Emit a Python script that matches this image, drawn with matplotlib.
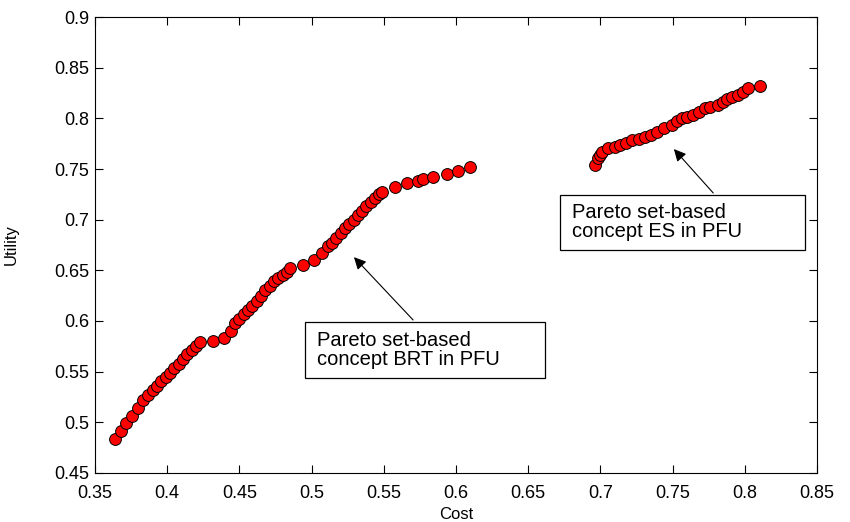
import matplotlib
matplotlib.use("Agg")
import matplotlib.pyplot as plt
from matplotlib.patches import Rectangle

plt.rcParams['font.family'] = ['Liberation Sans', 'DejaVu Sans']

# Pareto set, concept BRT
brt_cost = [0.3638, 0.368, 0.3715, 0.3756, 0.3798, 0.3832,
            0.3865, 0.390, 0.393, 0.396, 0.399, 0.402, 0.405, 0.408, 0.411, 0.414, 0.417, 0.420, 0.4227,
            0.4317, 0.4393, 0.4442, 0.447,
            0.450, 0.453, 0.456, 0.459, 0.462, 0.465, 0.468, 0.471, 0.474, 0.477, 0.480, 0.483,
            0.485, 0.494, 0.5017, 0.5072, 0.5114,
            0.514, 0.517, 0.520, 0.523, 0.526, 0.529, 0.532, 0.535, 0.538, 0.541, 0.544, 0.547, 0.5488,
            0.5578, 0.566, 0.5737, 0.5771, 0.584, 0.5938, 0.6014, 0.6097]
brt_util = [0.4834, 0.4913, 0.4992, 0.5061, 0.514, 0.522,
            0.527, 0.532, 0.536, 0.541, 0.545, 0.549, 0.554, 0.558, 0.562, 0.567, 0.571, 0.575, 0.5792,
            0.580, 0.5831, 0.590, 0.598,
            0.602, 0.607, 0.611, 0.615, 0.620, 0.625, 0.631, 0.635, 0.639, 0.642, 0.645, 0.648,
            0.6522, 0.6552, 0.660, 0.667, 0.674,
            0.677, 0.682, 0.687, 0.692, 0.696, 0.700, 0.705, 0.709, 0.713, 0.717, 0.721, 0.725, 0.7273,
            0.7322, 0.7361, 0.7381, 0.740, 0.742, 0.745, 0.748, 0.752]

# Pareto set, concept ES
es_cost = [0.6963, 0.6983, 0.700, 0.7011, 0.7053, 0.710, 0.7136, 0.718, 0.7219, 0.727, 0.7309,
           0.735, 0.7392, 0.744, 0.7496, 0.753, 0.7565, 0.760, 0.7641, 0.768, 0.7724, 0.776,
           0.7814, 0.785, 0.7877, 0.791, 0.7953, 0.799, 0.8022, 0.8105]
es_util = [0.7539, 0.7608, 0.764, 0.7667, 0.7707, 0.772, 0.7736, 0.776, 0.7786, 0.780, 0.7815,
           0.784, 0.7865, 0.790, 0.7934, 0.797, 0.8003, 0.801, 0.8033, 0.806, 0.8102, 0.811,
           0.8131, 0.816, 0.8191, 0.821, 0.823, 0.826, 0.8299, 0.8319]

fig = plt.figure(figsize=(8.5, 5.22), dpi=100)
ax = fig.add_axes([0.1118, 0.0939, 0.8494, 0.8735])

ax.plot(brt_cost, brt_util, 'o', mfc='red', mec='black', mew=0.7, ms=8.5, ls='none')
ax.plot(es_cost, es_util, 'o', mfc='red', mec='black', mew=0.7, ms=8.5, ls='none')

ax.set_xlim(0.35, 0.85)
ax.set_ylim(0.45, 0.9)
ax.set_xticks([0.35, 0.4, 0.45, 0.5, 0.55, 0.6, 0.65, 0.7, 0.75, 0.8, 0.85])
ax.set_xticklabels(['0.35', '0.4', '0.45', '0.5', '0.55', '0.6', '0.65', '0.7', '0.75', '0.8', '0.85'])
ax.set_yticks([0.45, 0.5, 0.55, 0.6, 0.65, 0.7, 0.75, 0.8, 0.85, 0.9])
ax.set_yticklabels(['0.45', '0.5', '0.55', '0.6', '0.65', '0.7', '0.75', '0.8', '0.85', '0.9'])
ax.tick_params(direction='in', top=True, right=True, labelsize=13, length=6, width=0.8, pad=4)
ax.tick_params(axis='x', pad=9)
for s in ax.spines.values():
    s.set_linewidth(0.8)

ax.set_xlabel('Cost', fontsize=12)
ax.set_ylabel('Utility', fontsize=12)
ax.xaxis.set_label_coords(0.5, -0.075)
ax.yaxis.set_label_coords(-0.105, 0.5)

# annotation boxes
ax.add_patch(Rectangle((0.4954, 0.5437), 0.1662, 0.0553, fc='white', ec='black', lw=0.9, zorder=3))
ax.text(0.5035, 0.5715, 'Pareto set-based\nconcept BRT in PFU', fontsize=14.5, va='center', ha='left',
        linespacing=1.0, zorder=4)
ax.annotate('', xy=(0.528, 0.665), xytext=(0.5716, 0.599),
            arrowprops=dict(arrowstyle='-|>', color='black', lw=0.8, mutation_scale=18))

ax.add_patch(Rectangle((0.672, 0.670), 0.170, 0.0543, fc='white', ec='black', lw=0.9, zorder=3))
ax.text(0.680, 0.6975, 'Pareto set-based\nconcept ES in PFU', fontsize=14.5, va='center', ha='left',
        linespacing=1.0, zorder=4)
ax.annotate('', xy=(0.7496, 0.7717), xytext=(0.7794, 0.7243),
            arrowprops=dict(arrowstyle='-|>', color='black', lw=0.8, mutation_scale=18))

fig.savefig('out.png', dpi=100)
